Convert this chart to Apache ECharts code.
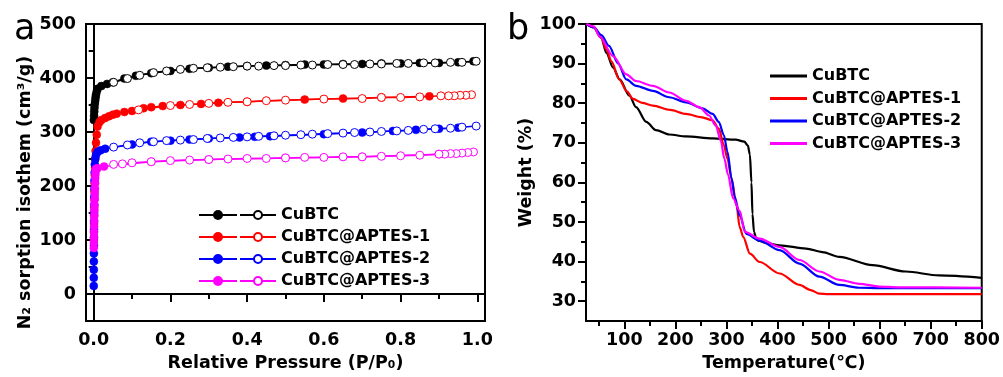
<!DOCTYPE html>
<html><head><meta charset="utf-8">
<script src="https://cdn.jsdelivr.net/npm/echarts@6/dist/echarts.min.js"></script>
<style>html,body{margin:0;padding:0;background:#fff}#c{width:1003px;height:377px}</style>
</head><body><div id="c"></div>
<script>
// ---------- data ----------
const sampleNames = ['CuBTC', 'CuBTC@APTES-1', 'CuBTC@APTES-2', 'CuBTC@APTES-3'];
const sampleColors = ['#000000', '#ff0000', '#0000ff', '#ff00ff'];

// N2 isotherms (a): adsorption (filled) and desorption (hollow)
const cubtcAdsP = [0.0005,0.001,0.0015,0.002,0.003,0.004,0.005,0.006,0.008,0.01,0.02,0.035,0.05,0.08,0.11,0.15,0.2,0.25,0.3,0.35,0.4,0.45,0.5,0.55,0.6,0.65,0.7,0.75,0.8,0.85,0.9,0.95,0.99];
const cubtcAdsV = [322,330,338,345,352,358,364,369,375,380,385,389,392,399,404,409,413,417,419,421,422,423,424,425,425,426,426,427,427,428,428,429,431];
const cubtcDesP = [0.997,0.96,0.93,0.89,0.86,0.82,0.79,0.75,0.72,0.68,0.65,0.61,0.57,0.54,0.5,0.47,0.43,0.4,0.364,0.33,0.296,0.26,0.226,0.19,0.156,0.12,0.088,0.052];
const cubtcDesV = [431,429,429,428,428,427,427,426,426,425,425,425,424,424,423,423,422,422,421,420,419,418,416,413,410,405,399,392];

const ap1AdsP = [0.0005,0.0008,0.001,0.0012,0.0015,0.0018,0.002,0.0025,0.003,0.0035,0.004,0.005,0.006,0.008,0.01,0.015,0.02,0.03,0.04,0.05,0.06,0.08,0.1,0.13,0.15,0.18,0.226,0.28,0.325,0.4,0.55,0.65,0.75,0.875];
const ap1AdsV = [100,115,130,145,160,175,190,205,220,235,250,265,280,295,310,318,322,326,329,332,334,337,339,344,346,348,350,352,354,356,360,362,364,366];
const ap1DesP = [0.985,0.97,0.955,0.94,0.925,0.905,0.85,0.8,0.75,0.7,0.6,0.5,0.45,0.4,0.35,0.3,0.25,0.2,0.117];
const ap1DesV = [369,368,368,367,367,367,365,364,364,362,361,359,358,356,355,353,351,349,341];

const ap2AdsP = [0.0002,0.0003,0.0004,0.0005,0.0006,0.0007,0.0008,0.0009,0.001,0.0012,0.0014,0.0016,0.0018,0.002,0.0025,0.003,0.004,0.006,0.01,0.018,0.03,0.1,0.15,0.2,0.25,0.3,0.38,0.42,0.46,0.6,0.7,0.78,0.84,0.9,0.95];
const ap2AdsV = [15,30,45,60,75,90,105,120,135,150,165,180,195,210,225,240,250,257,263,266,269,277,282,284,286,288,290,291,292,296,299,302,304,306,308];
const ap2DesP = [0.997,0.96,0.93,0.89,0.86,0.82,0.79,0.75,0.72,0.68,0.65,0.61,0.57,0.54,0.5,0.47,0.43,0.4,0.364,0.33,0.296,0.26,0.226,0.19,0.156,0.12,0.088,0.052];
const ap2DesV = [311,309,307,306,305,303,302,301,300,299,298,297,296,295,294,293,292,291,290,289,288,286,285,284,282,280,276,272];

const ap3AdsP = [0.0004,0.0006,0.0008,0.001,0.0012,0.0014,0.0016,0.0018,0.002,0.0024,0.0028,0.0032,0.0036,0.004,0.0045,0.005,0.006,0.01,0.027,0.15,0.3,0.5,0.7,0.9];
const ap3AdsV = [85,95,105,115,125,135,145,155,165,175,185,195,205,215,222,228,232,233,236,245,249,252,254,259];
const ap3DesP = [0.99,0.975,0.96,0.945,0.93,0.915,0.9,0.85,0.8,0.75,0.7,0.65,0.6,0.55,0.5,0.45,0.4,0.35,0.3,0.25,0.2,0.15,0.1,0.075,0.052];
const ap3DesV = [263,262,261,260,260,259,259,257,256,255,254,254,253,253,252,251,251,250,249,248,247,245,243,241,240];

// TGA (b): temperature (°C) and weight (%)
const cubtcT = [26,40,55,65,78,91,110,123,143,162,188,221,273,318,335,342,346,349,351,354,358,362,380,404,456,488,521,586,651,716,800];
const cubtcW = [100,99.2,96.5,92.7,89,86,81.9,79,75.3,73.2,72.1,71.6,71.1,70.8,70.3,69.3,67,60,52,47.5,46,45.3,44.6,44.1,43.3,42.4,41.2,39.1,37.5,36.5,35.9];
const ap1T = [26,40,55,65,75,90,105,117,135,156,190,221,250,273,285,295,302,310,320,326,333,346,365,404,443,465,482,500,800];
const ap1W = [100,99.2,96.5,93.5,90.5,86,83,81.1,80.1,79.4,78.3,77.3,76.5,75.7,73.6,69.4,66,61,54,48.7,46.2,42,39.9,37,34.1,32.8,31.9,31.8,31.8];
const ap2T = [26,40,55,70,88,104,123,156,188,221,253,273,285,295,302,310,316,326,339,365,404,443,482,521,560,600,800];
const ap2W = [100,99.2,97.2,94.5,90,86,84.4,83.1,81.5,80.2,78.7,77.3,75.3,71.9,67.8,61,56.5,51.6,47,45.3,42.9,39.5,36.2,34.1,33.4,33.3,33.3];
const ap3T = [26,40,52,78,104,123,156,188,221,247,266,279,289,296,303,313,326,336,365,404,443,482,521,560,599,638,800];
const ap3W = [100,99.4,96.8,91.9,87.3,85.6,84.4,82.7,80.6,79,76.9,74.4,70.5,66,62,56,52.8,47.5,45.8,43.7,40.4,37.5,35.4,34.4,33.7,33.5,33.4];

// axis ticks
const aXLabels = [0, 0.2, 0.4, 0.6, 0.8, 1.0];
const aXMinor = [0.1, 0.3, 0.5, 0.7, 0.9];
const aYLabels = [0, 100, 200, 300, 400, 500];
const aYMinor = [50, 150, 250, 350, 450];
const bXLabels = [100, 200, 300, 400, 500, 600, 700, 800];
const bXMinor = [50, 150, 250, 350, 450, 550, 650, 750];
const bYLabels = [30, 40, 50, 60, 70, 80, 90, 100];
const bYMinor = [35, 45, 55, 65, 75, 85, 95];

// ---------- chart ----------
const zip = (a, b) => a.map((v, i) => [v, b[i]]);
const FONT = 'DejaVu Sans';
const isoAds = [[cubtcAdsP, cubtcAdsV], [ap1AdsP, ap1AdsV], [ap2AdsP, ap2AdsV], [ap3AdsP, ap3AdsV]];
const isoDes = [[cubtcDesP, cubtcDesV], [ap1DesP, ap1DesV], [ap2DesP, ap2DesV], [ap3DesP, ap3DesV]];
const tga = [[cubtcT, cubtcW], [ap1T, ap1W], [ap2T, ap2W], [ap3T, ap3W]];

const series = [];
for (let i = 0; i < 4; i++) {
  series.push({
    name: 'ADS:' + sampleNames[i], type: 'line', xAxisIndex: 0, yAxisIndex: 0,
    data: zip(isoAds[i][0], isoAds[i][1]), symbol: 'circle', symbolSize: 8,
    lineStyle: { color: sampleColors[i], width: 1.5 },
    itemStyle: { color: sampleColors[i], borderColor: sampleColors[i], borderWidth: 0.5 },
    animation: false, z: 2 + i
  });
  series.push({
    name: sampleNames[i], type: 'line', xAxisIndex: 0, yAxisIndex: 0,
    data: zip(isoDes[i][0], isoDes[i][1]), symbol: 'circle', symbolSize: 8,
    lineStyle: { color: sampleColors[i], width: 1.5 },
    itemStyle: { color: '#ffffff', borderColor: sampleColors[i], borderWidth: 1 },
    animation: false, z: 2 + i
  });
}
for (let i = 0; i < 4; i++) {
  series.push({
    name: 'TGA:' + sampleNames[i], type: 'line', xAxisIndex: 2, yAxisIndex: 2,
    data: zip(tga[i][0], tga[i][1]), showSymbol: false, symbol: 'none',
    smooth: 0.3, smoothMonotone: 'x',
    lineStyle: { color: sampleColors[i], width: 2.2 },
    itemStyle: { color: sampleColors[i] },
    animation: false
  });
}

const tickLabel = { fontFamily: FONT, fontWeight: 'bold', fontSize: 17.5, color: '#000', margin: 10 };
const nameStyle = { fontFamily: FONT, fontWeight: 'bold', fontSize: 17.5, color: '#000' };
const lineAx = { show: true, lineStyle: { color: '#000', width: 2 } };

function mainAxis(grid, min, max, labels, fmt, extra) {
  return Object.assign({
    type: 'value', gridIndex: grid, min: min, max: max,
    axisLine: lineAx, splitLine: { show: false },
    axisTick: { show: true, inside: false, length: 8, customValues: labels, lineStyle: { color: '#000', width: 2 } },
    axisLabel: Object.assign({ customValues: labels, formatter: fmt }, tickLabel),
    nameTextStyle: nameStyle, nameLocation: 'middle'
  }, extra);
}
function minorAxis(grid, min, max, vals, pos) {
  return {
    type: 'value', gridIndex: grid, min: min, max: max, position: pos,
    axisLine: { show: false }, splitLine: { show: false },
    axisTick: { show: true, inside: false, length: 5, customValues: vals, lineStyle: { color: '#000', width: 2 } },
    axisLabel: { show: false }
  };
}

const legendText = { fontFamily: FONT, fontWeight: 'bold', fontSize: 16, color: '#000', lineHeight: 22 };

const option = {
  backgroundColor: '#fff',
  animation: false,
  title: [
    { text: 'a', left: 9, top: 7, textStyle: { fontFamily: FONT, fontWeight: 'normal', fontSize: 35, color: '#000' } },
    { text: 'b', left: 502, top: 7, textStyle: { fontFamily: FONT, fontWeight: 'normal', fontSize: 35, color: '#000' } }
  ],
  grid: [
    { left: 86, top: 24, width: 399, height: 301, show: true, borderColor: '#000', borderWidth: 2 },
    { left: 586, top: 24, width: 398, height: 301, show: true, borderColor: '#000', borderWidth: 2 }
  ],
  xAxis: [
    mainAxis(0, -0.02, 1.02, aXLabels, v => v.toFixed(1), { position: 'bottom', name: 'Relative Pressure (P/P\u2080)', nameGap: 33 }),
    minorAxis(0, -0.02, 1.02, aXMinor, 'bottom'),
    mainAxis(1, 25, 800, bXLabels, v => String(v), { position: 'bottom', name: 'Temperature(\u2103)', nameGap: 33 }),
    minorAxis(1, 25, 800, bXMinor, 'bottom')
  ],
  yAxis: [
    mainAxis(0, -50, 500, aYLabels, v => String(v), { position: 'left', name: 'N\u2082 sorption isothem (cm\u00b3/g)', nameGap: 52,
      nameTextStyle: Object.assign({}, nameStyle, { padding: [0, 40, 0, 0] }) }),
    minorAxis(0, -50, 500, aYMinor, 'left'),
    mainAxis(1, 25, 100, bYLabels, v => String(v), { position: 'left', name: 'Weight (%)', nameGap: 46 }),
    minorAxis(1, 25, 100, bYMinor, 'left')
  ],
  legend: [
    { orient: 'vertical', left: 193, top: 199, itemWidth: 38, itemHeight: 10, itemGap: 0,
      data: sampleNames.map(n => 'ADS:' + n), formatter: () => ' ', textStyle: legendText, selectedMode: false },
    { orient: 'vertical', left: 234, top: 199, itemWidth: 36, itemHeight: 10, itemGap: 0,
      data: sampleNames.slice(), textStyle: legendText, selectedMode: false },
    { orient: 'vertical', left: 765, top: 60, itemWidth: 37, itemHeight: 3, itemGap: 0.5, icon: 'rect',
      data: sampleNames.map(n => 'TGA:' + n), formatter: n => n.replace('TGA:', ''), textStyle: legendText, selectedMode: false }
  ],
  series: series
};
echarts.init(document.getElementById('c'), null, { renderer: 'canvas' }).setOption(option);
</script></body></html>
